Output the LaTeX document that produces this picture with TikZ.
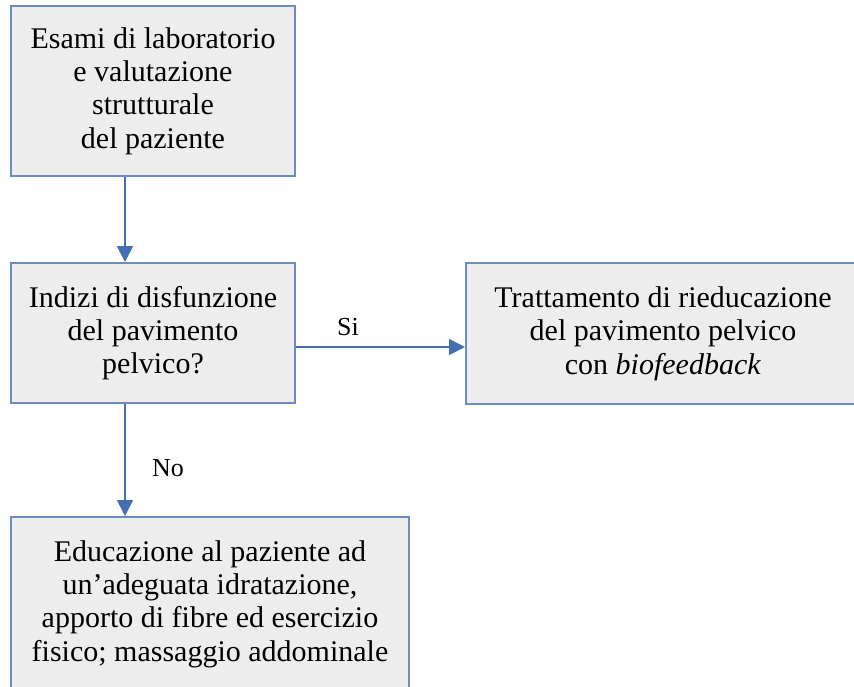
\documentclass[tikz,border=0pt]{standalone}
\usepackage{fontspec}
\setmainfont{Liberation Serif}
\usetikzlibrary{arrows.meta}
\definecolor{boxfill}{RGB}{237,237,237}
\definecolor{boxline}{RGB}{108,140,192}
\definecolor{arrowc}{RGB}{68,111,178}
\begin{document}
\begin{tikzpicture}[x=1pt,y=-1pt,
  box/.style={draw=boxline, fill=boxfill, line width=2pt, align=center, inner sep=0pt, font=\fontsize{30}{33.3}\selectfont},
  arr/.style={draw=arrowc, line width=1.8pt, -{Triangle[length=16pt,width=16pt]}},
  lab/.style={font=\fontsize{26}{30}\selectfont}]
\useasboundingbox (0,0) rectangle (854,686);
\node[box, minimum width=284pt, minimum height=170pt] (b1) at (153,91)
  {Esami di laboratorio\\e valutazione\\strutturale\\del paziente};
\node[box, minimum width=284pt, minimum height=140pt] (b2) at (153,333)
  {Indizi di disfunzione\\del pavimento\\pelvico?};
\node[box, minimum width=394pt, minimum height=141pt] (b3) at (663,333.5)
  {Trattamento di rieducazione\\del pavimento pelvico\\con \textit{biofeedback}};
\node[box, minimum width=398pt, minimum height=174pt] (b4) at (210,604)
  {Educazione al paziente ad\\un’adeguata idratazione,\\apporto di fibre ed esercizio\\fisico; massaggio addominale};
\draw[arr] ([xshift=-28pt]b1.south) -- ([xshift=-28pt]b2.north);
\draw[arr] ([xshift=-28pt]b2.south) -- ([xshift=-28pt]b2.south |- b4.north);
\draw[arr] ([yshift=-14pt]b2.east) -- ([yshift=-14pt]b2.east -| b3.west);
\node[lab] (si) at (348,327) {Si};
\node[lab] (no) at (168,468) {No};
\end{tikzpicture}
\end{document}
